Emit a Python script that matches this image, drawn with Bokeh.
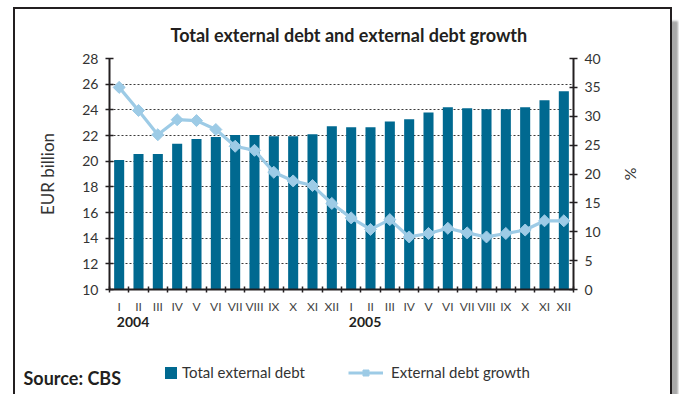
from bokeh.plotting import figure
from bokeh.layouts import column
from bokeh.models import (Range1d, LinearAxis, FixedTicker, Label, Legend, LegendItem)
from bokeh.embed import file_html
from bokeh.resources import INLINE

months = ["I", "II", "III", "IV", "V", "VI", "VII", "VIII", "IX", "X", "XI", "XII"] * 2
years = ["2004", "2005"]
year_pos = [0.72, 12.72]
debt = [20.1, 20.55, 20.55, 21.35, 21.72, 21.88, 22.03, 22.03, 21.95, 21.95, 22.1, 22.72,
        22.65, 22.65, 23.1, 23.27, 23.8, 24.2, 24.12, 24.04, 24.04, 24.2, 24.75, 25.45]
growth = [35.0, 31.0, 26.8, 29.4, 29.25, 27.7, 24.8, 24.1, 20.3, 18.8, 18.0, 14.9,
          12.4, 10.4, 12.1, 9.1, 9.7, 10.6, 9.8, 9.1, 9.7, 10.3, 11.9, 11.9]
left_ticks = list(range(10, 29, 2))
right_ticks = list(range(0, 41, 5))

BAR = "#006990"
LINE = "#9dcbe6"
TXT = "#231f20"
LAB = "#333333"
FONT = "Lato"

n = len(debt)
xs = list(range(n))

p = figure(width=655, height=345, output_backend="svg", toolbar_location=None,
           x_range=Range1d(-0.5, n - 0.5), y_range=Range1d(10, 28),
           min_border_left=94, min_border_right=97, min_border_top=48, min_border_bottom=65)
p.frame_align = False
p.outline_line_color = None
p.background_fill_color = "white"
p.border_fill_color = "white"
p.extra_y_ranges = {"pct": Range1d(0, 40)}

p.title.text = "Total external debt and external debt growth"
p.title.align = "left"
p.title.offset = 61
p.title.standoff = 25
p.title.text_font = FONT
p.title.text_font_style = "bold"
p.title.text_font_size = "18px"
p.title.text_color = TXT

bars = p.vbar(x=xs, top=debt, bottom=10, width=0.52, fill_color=BAR, line_color=None)
ln = p.line(x=xs, y=growth, y_range_name="pct", line_color=LINE, line_width=3.2)
sc = p.scatter(x=xs, y=growth, y_range_name="pct", marker="square", angle=0.785398,
               size=8.5, fill_color=LINE, line_color=LINE)

# x axis (months)
xax = p.xaxis[0]
xax.ticker = FixedTicker(ticks=xs, minor_ticks=[i - 0.5 for i in range(n + 1)])
xax.major_label_overrides = {i: m for i, m in enumerate(months)}
xax.major_tick_line_color = None
xax.minor_tick_in = 3
xax.minor_tick_out = 3
xax.minor_tick_line_color = TXT
xax.minor_tick_line_width = 1.5
xax.axis_line_color = TXT
xax.axis_line_width = 2
xax.major_label_text_font = FONT
xax.major_label_text_font_size = "12px"
xax.major_label_text_color = "#444444"
xax.major_label_standoff = 3

# year axis
yr = LinearAxis(ticker=FixedTicker(ticks=year_pos))
yr.major_label_overrides = {v: t for v, t in zip(year_pos, years)}
yr.axis_line_color = None
yr.major_tick_line_color = None
yr.minor_tick_line_color = None
yr.major_tick_out = 0
yr.major_tick_in = 0
yr.major_label_text_font = FONT
yr.major_label_text_font_style = "bold"
yr.major_label_text_font_size = "14px"
yr.major_label_text_color = TXT
yr.major_label_standoff = 0
p.add_layout(yr, "below")

# left axis
yax = p.yaxis[0]
yax.ticker = FixedTicker(ticks=left_ticks)
yax.minor_tick_line_color = None
yax.major_tick_in = 4
yax.major_tick_out = 4
yax.major_tick_line_color = TXT
yax.major_tick_line_width = 1.5
yax.axis_line_color = TXT
yax.axis_line_width = 2
yax.major_label_text_font = FONT
yax.major_label_text_font_size = "14px"
yax.major_label_text_color = LAB
yax.major_label_standoff = 7
yax.axis_label = "EUR billion"
yax.axis_label_text_font = FONT
yax.axis_label_text_font_style = "normal"
yax.axis_label_text_font_size = "17px"
yax.axis_label_text_color = LAB
yax.axis_label_standoff = 21

rax = LinearAxis(y_range_name="pct", ticker=FixedTicker(ticks=right_ticks))
rax.minor_tick_line_color = None
rax.major_tick_in = 4
rax.major_tick_out = 4
rax.major_tick_line_color = TXT
rax.major_tick_line_width = 1.5
rax.axis_line_color = TXT
rax.axis_line_width = 2
rax.major_label_text_font = FONT
rax.major_label_text_font_size = "14px"
rax.major_label_text_color = LAB
rax.major_label_standoff = 7
rax.axis_label = "%"
rax.axis_label_text_font = FONT
rax.axis_label_text_font_style = "normal"
rax.axis_label_text_font_size = "16px"
rax.axis_label_text_color = LAB
rax.axis_label_standoff = 18
p.add_layout(rax, "right")

p.xgrid.grid_line_color = None
p.ygrid.grid_line_color = "#3a3a3a"
p.ygrid.grid_line_dash = "2 2"
p.ygrid.grid_line_width = 1
p.ygrid.ticker = FixedTicker(ticks=left_ticks[1:])

# bottom strip: source and legend
b = figure(width=655, height=40, output_backend="svg", toolbar_location=None,
           x_range=Range1d(0, 655), y_range=Range1d(0, 40),
           x_axis_type=None, y_axis_type=None,
           min_border_left=0, min_border_right=0, min_border_top=0, min_border_bottom=0)
b.frame_align = False
b.outline_line_color = None
b.xgrid.grid_line_color = None
b.ygrid.grid_line_color = None
b.background_fill_color = "white"
b.border_fill_color = "white"

# legend proxies (kept outside the visible range)
off = [-1000]
lb = b.vbar(x=off, top=off, bottom=off, width=1, fill_color=BAR, line_color=None)
ll = b.line(x=off, y=off, line_color=LINE, line_width=3.2)
ls = b.scatter(x=off, y=off, marker="square", angle=0.785398, size=10,
               fill_color=LINE, line_color=LINE)

b.add_layout(Label(x=8, y=17, text="Source: CBS", text_align="left", text_baseline="middle",
                   text_font=FONT, text_font_style="bold", text_font_size="18px",
                   text_color=TXT))

lg1 = Legend(items=[LegendItem(label="Total external debt", renderers=[lb])],
             location=(148, 13), orientation="horizontal",
             glyph_width=15, glyph_height=15, label_standoff=4,
             padding=0, margin=0, border_line_color=None, background_fill_alpha=0,
             label_text_font=FONT, label_text_font_size="15px", label_text_color=LAB)
lg2 = Legend(items=[LegendItem(label="External debt growth", renderers=[ll, ls])],
             location=(333, 13), orientation="horizontal",
             glyph_width=35, glyph_height=15, label_standoff=8,
             padding=0, margin=0, border_line_color=None, background_fill_alpha=0,
             label_text_font=FONT, label_text_font_size="15px", label_text_color=LAB)
b.add_layout(lg1, "center")
b.add_layout(lg2, "center")

layout = column(p, b, spacing=0)
layout.styles = {"margin-left": "13px", "margin-top": "7px",
                 "border-left": "2px solid #231f20", "border-top": "2px solid #231f20",
                 "border-right": "2px solid #231f20",
                 "box-shadow": "6px 14px 2px #a9a9a9"}

open("out.html", "w").write(file_html(layout, INLINE))
